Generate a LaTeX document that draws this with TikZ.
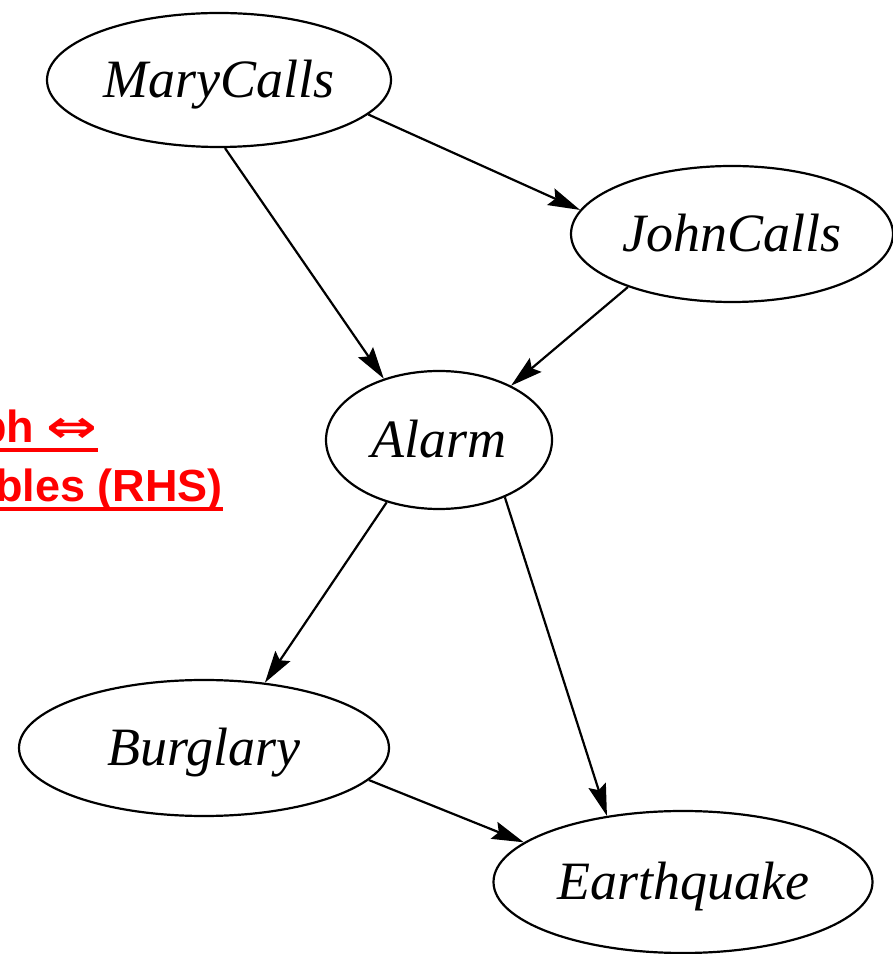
\documentclass[tikz,border=0pt]{standalone}
\usepackage{fontspec}
\setmainfont{Liberation Serif}
\setsansfont{Liberation Sans}
\newfontfamily\arrowfont{DejaVu Sans}
\usetikzlibrary{shapes.geometric,arrows.meta}

\begin{document}
\begin{tikzpicture}[x=1pt, y=1pt,
    var/.style={draw, ellipse, line width=2.2pt, inner sep=0pt, text height=36pt, text depth=0pt,
        font=\fontsize{54}{60}\selectfont\itshape},
    dep/.style={-{Stealth[length=32pt, width=18pt, inset=5pt]}, line width=2.2pt},
    slide/.style={inner sep=0pt, anchor=base east, text=red, font=\fontsize{45}{50}\selectfont\sffamily\bfseries},
    uline/.style={red, line width=4pt}]

    \useasboundingbox (0,0) rectangle (893,954);
    \clip (0,0) rectangle (893,954);

    \begin{scope}
        \clip (17,0) rectangle (893,954);

        \node[var, minimum width=344pt, minimum height=134pt](mary) at (219,874){MaryCalls};
        \node[var, minimum width=322pt, minimum height=136pt](john) at (732,720){JohnCalls};
        \node[var, minimum width=226pt, minimum height=138pt](alarm) at (439,514){Alarm};
        \node[var, minimum width=370pt, minimum height=136pt](burglary) at (204,206){Burglary};
        \node[var, minimum width=379pt, minimum height=142pt](quake) at (683,72){Earthquake};

        \draw[dep](mary.-13)--(john.171);
        \draw[dep](mary.-85)--(alarm.132);
        \draw[dep](john.-153)--(alarm.37);
        \draw[dep](alarm.-130)--(burglary.47);
        \draw[dep](alarm.-41)--(quake.139);
        \draw[dep](burglary.-11)--(quake.166);
    \end{scope}

    \node[slide](equiv) at (98,511){ph {\arrowfont\scalebox{1.35}[1]{⇔}}};
    \node[slide](rhs) at (223,452){bles (RHS)};

    \draw[uline]([yshift=-7pt]equiv.base west)--([yshift=-7pt]equiv.base east);
    \draw[uline]([yshift=-7pt]rhs.base west)--([yshift=-7pt]rhs.base east);

\end{tikzpicture}
\end{document}
